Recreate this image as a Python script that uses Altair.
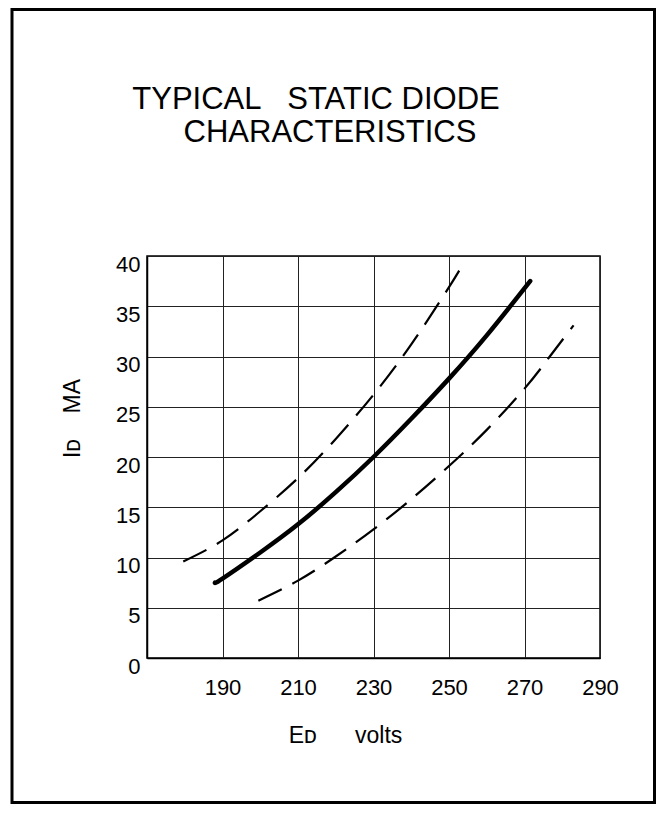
import altair as alt
import pandas as pd

# ---- data ----
upper_e = [179.6, 190, 200, 210, 220, 230, 240, 250, 254]
upper_i = [9.6, 11.7, 14.6, 17.9, 21.8, 26.2, 31.2, 36.9, 39.4]

typ_e = [188, 190, 200, 210, 220, 230, 240, 250, 260, 271.5]
typ_i = [7.5, 7.9, 10.5, 13.3, 16.5, 20.0, 23.8, 27.8, 32.1, 37.5]

lower_e = [199.5, 210, 220, 230, 240, 250, 260, 270, 276.7, 283]
lower_i = [5.7, 7.7, 10.1, 12.8, 15.8, 19.1, 22.7, 26.8, 30.0, 33.1]

x_ticks = [190, 210, 230, 250, 270, 290]
y_ticks = [0, 5, 10, 15, 20, 25, 30, 35, 40]

NB = "\u00a0"
title_lines = ["TYPICAL" + NB * 3 + "STATIC DIODE", "CHARACTERISTICS"]
x_title = "E\u1d05" + NB * 6 + "volts"
y_title = "I\u1d05" + NB * 4 + "MA"

FONT = "Liberation Sans"

dashed = pd.DataFrame(
    [{"E": e, "I": i, "curve": "upper", "o": k} for k, (e, i) in enumerate(zip(upper_e, upper_i))]
    + [{"E": e, "I": i, "curve": "lower", "o": k} for k, (e, i) in enumerate(zip(lower_e, lower_i))]
)
solid = pd.DataFrame({"E": typ_e, "I": typ_i, "o": list(range(len(typ_e)))})
dummy = pd.DataFrame({"a": [0]})

xs = alt.X(
    "E:Q",
    scale=alt.Scale(domain=[170, 290], nice=False, zero=False),
    axis=alt.Axis(
        values=x_ticks, title=x_title, ticks=False, labelPadding=19,
        labelFontSize=22, labelFont=FONT, labelColor="black",
        labelFlush=False, labelOverlap=False, labelBound=False,
        domainColor="black", domainWidth=1.5,
        grid=True, gridColor="#222", gridWidth=1,
        titleFont=FONT, titleFontSize=23, titleFontWeight="normal", titleColor="black",
        titleX=198, titleY=77, titleBaseline="middle", titleAlign="center",
    ),
)
ys = alt.Y(
    "I:Q",
    scale=alt.Scale(domain=[0, 40], nice=False),
    axis=alt.Axis(
        values=y_ticks, title=y_title, ticks=False, labelPadding=7,
        labelFontSize=22, labelFont=FONT, labelColor="black", labelOffset=8,
        labelFlush=False, labelOverlap=False, labelBound=False,
        domainColor="black", domainWidth=1.5,
        grid=True, gridColor="#222", gridWidth=1,
        titleFont=FONT, titleFontSize=23, titleFontWeight="normal", titleColor="black",
        titleX=-75, titleY=162, titleBaseline="middle", titleAlign="center",
    ),
)

solid_layer = alt.Chart(solid).mark_line(
    color="black", strokeWidth=4.5, strokeCap="round", interpolate="natural"
).encode(x=xs, y=ys, order="o:Q")

dashed_layer = alt.Chart(dashed).mark_line(
    color="black", strokeWidth=2.2, strokeDash=[26, 12], interpolate="natural"
).encode(x="E:Q", y="I:Q", detail="curve:N", order="o:Q")

frame = alt.Chart(dummy).mark_rect(
    filled=False, stroke="black", strokeWidth=3
).encode(x=alt.value(-135), x2=alt.value(507.5), y=alt.value(-246.5), y2=alt.value(546.5))

t1 = alt.Chart(dummy).mark_text(
    font=FONT, fontSize=31, align="center", baseline="alphabetic", color="black"
).encode(x=alt.value(169), y=alt.value(-147), text=alt.value(title_lines[0]))
t2 = alt.Chart(dummy).mark_text(
    font=FONT, fontSize=31, align="center", baseline="alphabetic", color="black"
).encode(x=alt.value(183), y=alt.value(-114), text=alt.value(title_lines[1]))

chart = alt.layer(solid_layer, dashed_layer, frame, t1, t2).properties(
    width=453, height=402,
    padding={"left": 139, "top": 248, "right": 56, "bottom": 146},
    autosize=alt.AutoSizeParams(type="none"),
    background="white",
).configure_view(stroke="black", strokeWidth=1.5)

chart.save("out.html", embed_options={"renderer": "svg", "actions": False})
